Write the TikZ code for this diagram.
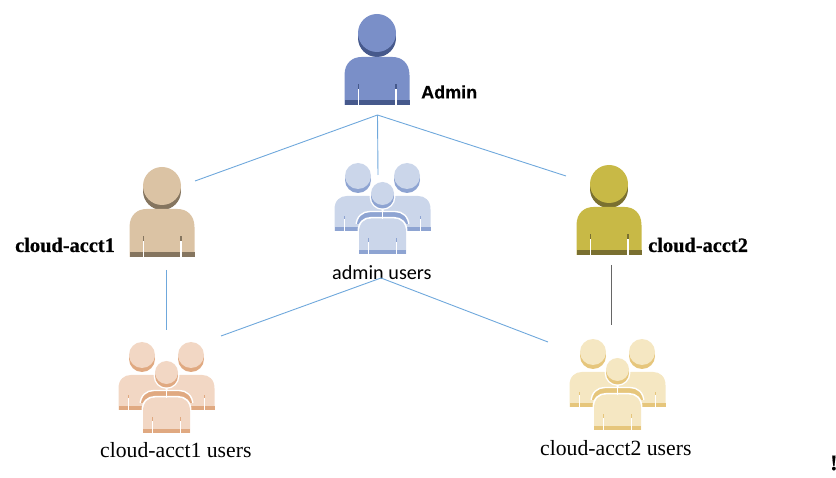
\documentclass[tikz,border=0pt]{standalone}
\usepackage{fontspec}
\setmainfont{Liberation Serif}[BoldFeatures={FakeBold=0.6}]
\newfontfamily\arialf{Liberation Sans}[BoldFeatures={FakeBold=0.5}]
\newfontfamily\carlitof{Carlito}
\definecolor{adminM}{HTML}{7A8FC8}\definecolor{adminD}{HTML}{46598C}
\definecolor{auM}{HTML}{CBD6EA}\definecolor{auD}{HTML}{8EA4D2}
\definecolor{oneM}{HTML}{DBC3A4}\definecolor{oneD}{HTML}{85755F}
\definecolor{twoM}{HTML}{C8B946}\definecolor{twoD}{HTML}{7A7030}
\definecolor{ouM}{HTML}{F2D7C4}\definecolor{ouD}{HTML}{E0A981}
\definecolor{tuM}{HTML}{F5E7C2}\definecolor{tuD}{HTML}{E6C67C}
\definecolor{linkc}{HTML}{6FA8DC}
\tikzset{
  link/.style={draw=linkc,line width=0.9pt},
  lab/.style={inner sep=0pt,anchor=west,text=black},
}
% head: cx, top, r, shadow offset, main, dark, halo width
\newcommand\headfig[7]{%
  \ifdim#7pt>0pt
    \fill[white] (#1,#2+#3) circle[radius=#3+#7];
    \fill[white] (#1,#2+#3+#4) circle[radius=#3+#7];
  \fi
  \fill[#6] (#1,#2+#3+#4) circle[radius=#3];
  \fill[#5] (#1,#2+#3) circle[radius=#3];
}
\newcommand\bodyoutline{(-1,1) -- (-1,0.38) .. controls (-1,0.12) and (-0.75,0) .. (-0.48,0) -- (0.48,0) .. controls (0.75,0) and (1,0.12) .. (1,0.38) -- (1,1) -- cycle}
% body: cx, top, bottom, half width, main, dark
\newcommand\bodyfig[6]{%
  \begin{scope}[shift={(#1,#2)},xscale=#4,yscale=#3-#2]
    \fill[#5] \bodyoutline;
    \fill[#6] (-1,0.9) rectangle (1,1);
    \fill[#6] (-0.6,0.56) rectangle (-0.56,0.66);
    \fill[#6] (0.56,0.56) rectangle (0.6,0.66);
    \fill[white] (-0.6,0.66) rectangle (-0.56,1);
    \fill[white] (0.56,0.66) rectangle (0.6,1);
  \end{scope}
}
% group: dx, dy, main, dark
\newcommand\groupfig[4]{%
  \begin{scope}[shift={(#1,#2)}]
    \bodyfig{358}{196}{231}{23.5}{#3}{#4}
    \bodyfig{407}{196}{231}{23.5}{#3}{#4}
    \headfig{358}{163}{13}{4}{#3}{#4}{0}
    \headfig{407}{163}{13}{4}{#3}{#4}{0}
    \begin{scope}
      \clip (340,205) rectangle (425,224);
      \begin{scope}[shift={(382.5,211.5)},xscale=26.5,yscale=40]
        \fill[#4,draw=white,line width=1.4pt] \bodyoutline;
      \end{scope}
    \end{scope}
    \begin{scope}[shift={(382.5,217)},xscale=25,yscale=38]
      \fill[white] \bodyoutline;
    \end{scope}
    \bodyfig{382.5}{218.5}{254}{23.5}{#3}{#4}
    \fill[white] (381.7,205) rectangle (383.3,219);
    \headfig{382.5}{182}{11.5}{3.5}{#3}{#4}{1.4}
  \end{scope}
}
\begin{document}
\begin{tikzpicture}[x=1pt,y=-1pt]
\useasboundingbox (0,0) rectangle (836,478);
% admin
\headfig{377}{14}{19}{5}{adminM}{adminD}{0}
\bodyfig{377}{57}{105}{32.5}{adminM}{adminD}
% acct1
\headfig{162}{167}{19}{5}{oneM}{oneD}{0}
\bodyfig{162}{209}{257}{32.5}{oneM}{oneD}
% acct2
\headfig{609}{165}{19}{5}{twoM}{twoD}{0}
\bodyfig{609}{207}{255}{32.5}{twoM}{twoD}
% groups
\groupfig{0}{0}{auM}{auD}
\groupfig{-216}{179}{ouM}{ouD}
\groupfig{235}{176}{tuM}{tuD}
% labels
\node[lab,font=\arialf\bfseries\fontsize{18}{20}\selectfont] (admin) at (421,92) {Admin};
\node[lab,font=\bfseries\fontsize{20.4}{22}\selectfont] (acct1) at (15,245) {cloud-acct1};
\node[lab,font=\bfseries\fontsize{20.4}{22}\selectfont] (acct2) at (648,245) {cloud-acct2};
\node[lab,font=\carlitof\fontsize{20.2}{22}\selectfont] (adminusers) at (332,273) {admin users};
\node[lab,font=\fontsize{21.7}{24}\selectfont] (acct1users) at (100,450) {cloud-acct1 users};
\node[lab,font=\fontsize{21.7}{24}\selectfont] (acct2users) at (540,448) {cloud-acct2 users};
\node[lab,font=\bfseries\fontsize{22}{24}\selectfont] (mark) at (830,463) {!};
% connector ends
\coordinate (hubA) at (377.5,115);
\coordinate (toOne) at (195,181);
\coordinate (toAU) at (378,175);
\coordinate (toTwo) at (566,176);
\coordinate (hubU) at (381,278);
\coordinate (toOU) at (221,336);
\coordinate (toTU) at (548,342);
\coordinate (oneA) at (166,270);
\coordinate (oneB) at (166,330);
\coordinate (twoA) at (611,265);
\coordinate (twoB) at (611,325);
\draw[link] (hubA) -- (toOne);
\draw[link] (hubA) -- (toAU);
\draw[link] (hubA) -- (toTwo);
\draw[link] (hubU) -- (toOU);
\draw[link] (hubU) -- (toTU);
\draw[link] (oneA) -- (oneB);
\draw[draw=gray!80!black,line width=0.8pt] (twoA) -- (twoB);
\end{tikzpicture}
\end{document}
